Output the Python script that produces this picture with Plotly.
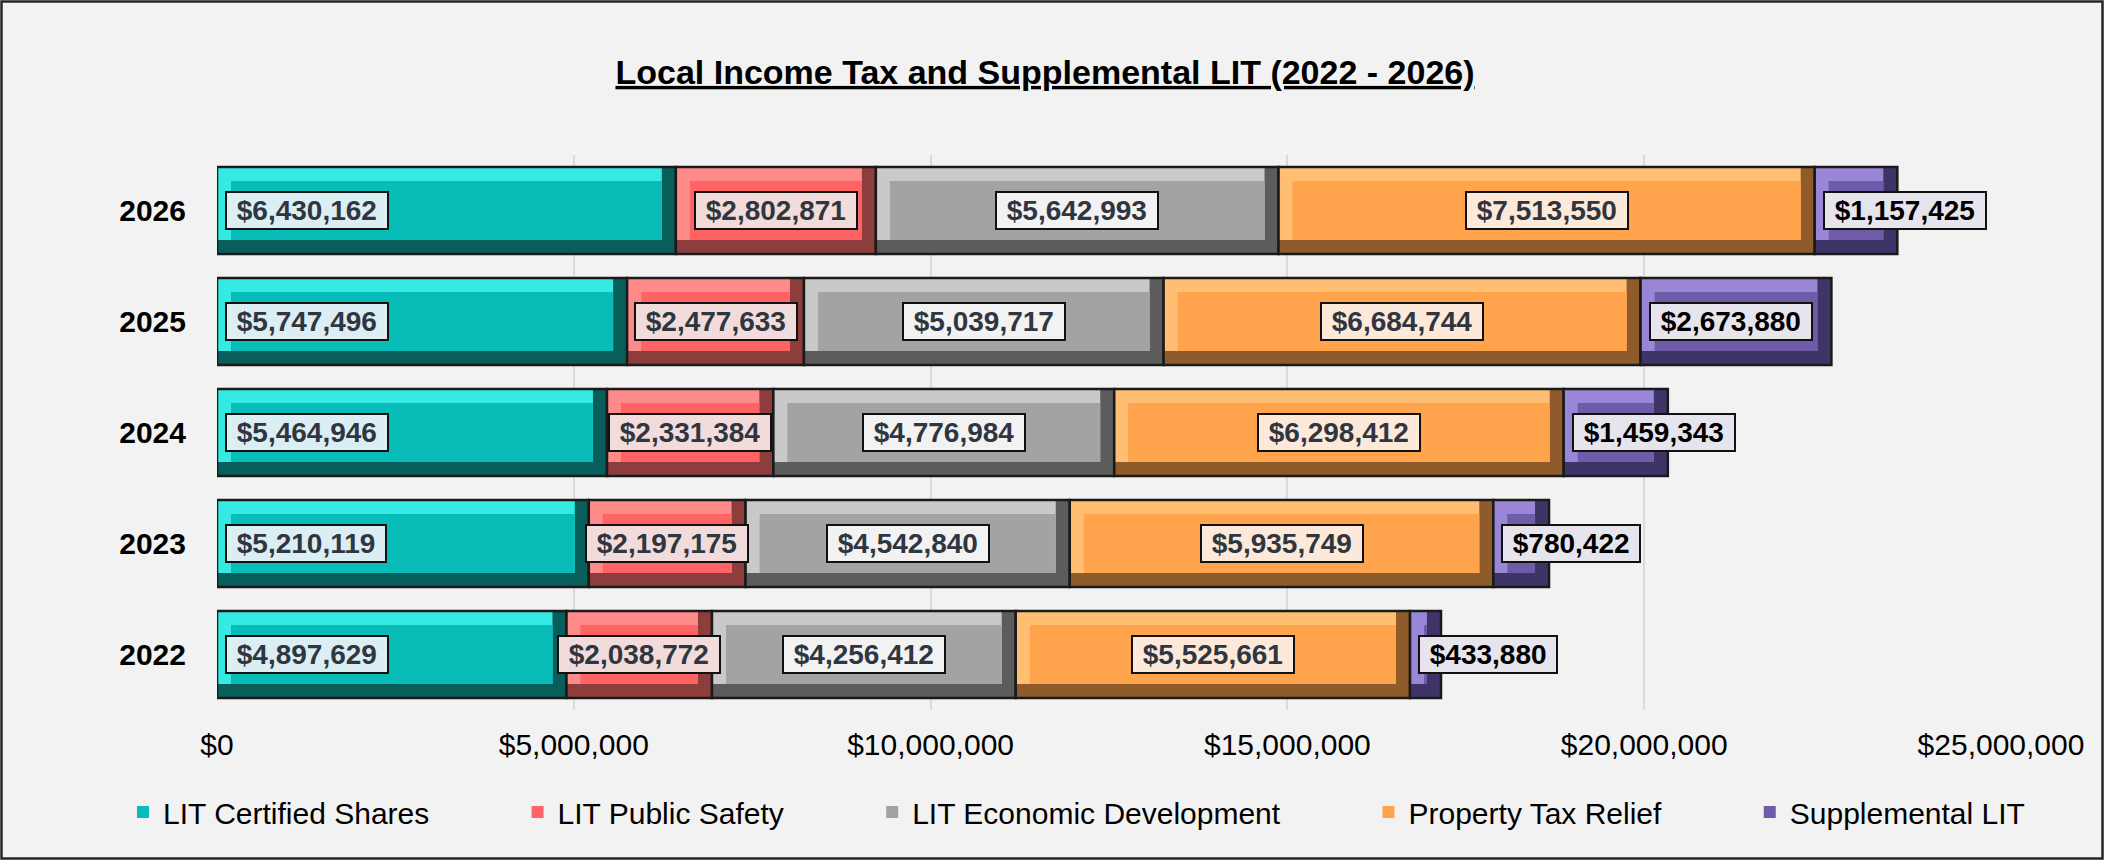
import plotly.graph_objects as go

# ---------------- data ----------------
years = ["2022", "2023", "2024", "2025", "2026"]
series_names = ["LIT Certified Shares", "LIT Public Safety", "LIT Economic Development",
                "Property Tax Relief", "Supplemental LIT"]
certified_shares = [4897629, 5210119, 5464946, 5747496, 6430162]
public_safety = [2038772, 2197175, 2331384, 2477633, 2802871]
economic_development = [4256412, 4542840, 4776984, 5039717, 5642993]
property_tax_relief = [5525661, 5935749, 6298412, 6684744, 7513550]
supplemental_lit = [433880, 780422, 1459343, 2673880, 1157425]
x_tick_values = [0, 5000000, 10000000, 15000000, 20000000, 25000000]
x_tick_labels = ["$0", "$5,000,000", "$10,000,000", "$15,000,000", "$20,000,000", "$25,000,000"]
title_text = "Local Income Tax and Supplemental LIT (2022 - 2026)"

all_series = [certified_shares, public_safety, economic_development,
              property_tax_relief, supplemental_lit]
ypos = list(range(len(years)))

# ---------------- style ----------------
FONT = "Arial, Liberation Sans, sans-serif"
BG = "#F2F2F2"
main_colors = ["#08BCB7", "#FF6363", "#A3A3A3", "#FFA34D", "#6F5CA8"]
light_colors = ["#34EAE3", "#FF8A8A", "#C9C9C9", "#FFBE72", "#9A86D6"]
dark_colors = ["#075E5B", "#8E3D3D", "#5C5C5C", "#8F5B2B", "#3F3468"]
label_bg = ["#DBEEF4", "#F2DCDB", "#F2F2F2", "#FDE9D9", "#E6E4EC"]
label_fg = ["#2F3640", "#2F3640", "#2F3640", "#2F3640", "#000000"]
label_anchor = ["left", "center", "center", "center", "left"]
LEGEND_PAD = "\u00a0" * 10

W_PX, H_PX = 2104, 860
M_L, M_R, M_T, M_B = 217, 103, 155, 150
X_MAX = 25000000
plot_w = W_PX - M_L - M_R
plot_h = H_PX - M_T - M_B
BAR_W = 0.784
BEVEL_PX = 14
dx = BEVEL_PX * X_MAX / plot_w
dy = BEVEL_PX / (plot_h / len(years))

fig = go.Figure()
annotations = []

cum = [0] * len(years)
n_series = len(series_names)
for i, (name, vals) in enumerate(zip(series_names, all_series)):
    bases = list(cum)
    legend_name = name + (LEGEND_PAD if i < n_series - 1 else "")
    # dark body (bottom / right bevel)
    fig.add_trace(go.Bar(y=ypos, x=vals, base=bases, orientation="h", width=BAR_W,
                         marker=dict(color=dark_colors[i], line=dict(width=0)),
                         showlegend=False, hoverinfo="skip"))
    # light top/left bevel
    fig.add_trace(go.Bar(y=ypos, x=[max(v - dx, 0) for v in vals], base=bases,
                         orientation="h", width=BAR_W - dy, offset=-BAR_W / 2 + dy,
                         marker=dict(color=light_colors[i], line=dict(width=0)),
                         showlegend=False, hoverinfo="skip"))
    # main face
    fig.add_trace(go.Bar(y=ypos, x=[max(v - 2 * dx, 0) for v in vals],
                         base=[b + dx for b in bases],
                         orientation="h", width=BAR_W - 2 * dy, offset=-BAR_W / 2 + dy,
                         marker=dict(color=main_colors[i], line=dict(width=0)),
                         name=legend_name, legendgroup=name, showlegend=True,
                         customdata=years,
                         hovertemplate="%{customdata}: %{x:$,.0f}<extra>" + name + "</extra>"))
    # outline
    fig.add_trace(go.Bar(y=ypos, x=vals, base=bases, orientation="h", width=BAR_W,
                         marker=dict(color="rgba(0,0,0,0)", line=dict(color="#1A1A1A", width=2.5)),
                         showlegend=False, hoverinfo="skip"))
    for j in ypos:
        if label_anchor[i] == "left":
            ax, xa, xs = bases[j], "left", 8
        else:
            ax, xa, xs = bases[j] + vals[j] / 2, "center", 0
        annotations.append(dict(
            x=ax, y=j, xref="x", yref="y", xanchor=xa, yanchor="middle", xshift=xs,
            text="\u00a0${:,}\u00a0".format(vals[j]), showarrow=False,
            font=dict(family=FONT, size=28, color=label_fg[i], weight="bold"),
            bgcolor=label_bg[i], bordercolor="#111111", borderwidth=2, borderpad=2))
    cum = [c + v for c, v in zip(cum, vals)]

# outer frame of the chart
fx0 = (1.5 - M_L) / plot_w
fx1 = (W_PX - 1.5 - M_L) / plot_w
fy0 = -(M_B - 1.5) / plot_h
fy1 = 1 + (M_T - 1.5) / plot_h

fig.update_layout(
    width=W_PX, height=H_PX,
    barmode="overlay",
    paper_bgcolor=BG, plot_bgcolor=BG,
    margin=dict(l=M_L, r=M_R, t=M_T, b=M_B, autoexpand=False),
    font=dict(family=FONT, color="#000000"),
    title=dict(text="<b><u>" + title_text + "</u></b>", x=1045 / W_PX, xref="container",
               xanchor="center", y=1 - 72 / H_PX, yref="container", yanchor="middle",
               font=dict(family=FONT, size=34, color="#000000")),
    xaxis=dict(range=[0, X_MAX], tickvals=x_tick_values, ticktext=x_tick_labels,
               showgrid=True, gridcolor="#D9D9DE", gridwidth=1.5, zeroline=False,
               showline=False, ticks="outside", ticklen=8, tickcolor="rgba(0,0,0,0)",
               tickfont=dict(family=FONT, size=30, color="#000000"), fixedrange=True),
    yaxis=dict(range=[-0.5, len(years) - 0.5], tickvals=ypos, ticktext=years,
               showgrid=False, zeroline=False, showline=False,
               ticks="outside", ticklen=24, tickcolor="rgba(0,0,0,0)",
               tickfont=dict(family=FONT, size=30, color="#000000", weight="bold"),
               fixedrange=True),
    legend=dict(orientation="h", xref="paper", yref="paper",
                x=(123 - M_L) / plot_w, xanchor="left",
                y=-(812 - (H_PX - M_B)) / plot_h, yanchor="middle",
                font=dict(family=FONT, size=30, color="#000000"),
                bgcolor="rgba(0,0,0,0)", traceorder="normal", itemclick=False,
                itemdoubleclick=False),
    annotations=annotations,
    shapes=[dict(type="rect", xref="paper", yref="paper", x0=fx0, x1=fx1, y0=fy0, y1=fy1,
                 line=dict(color="#262626", width=2.5), fillcolor="rgba(0,0,0,0)",
                 layer="above")],
    showlegend=True,
)

fig.write_html("out.html", config={"displayModeBar": False},
               post_script="document.body.style.margin='0';document.body.style.overflow='hidden';")
